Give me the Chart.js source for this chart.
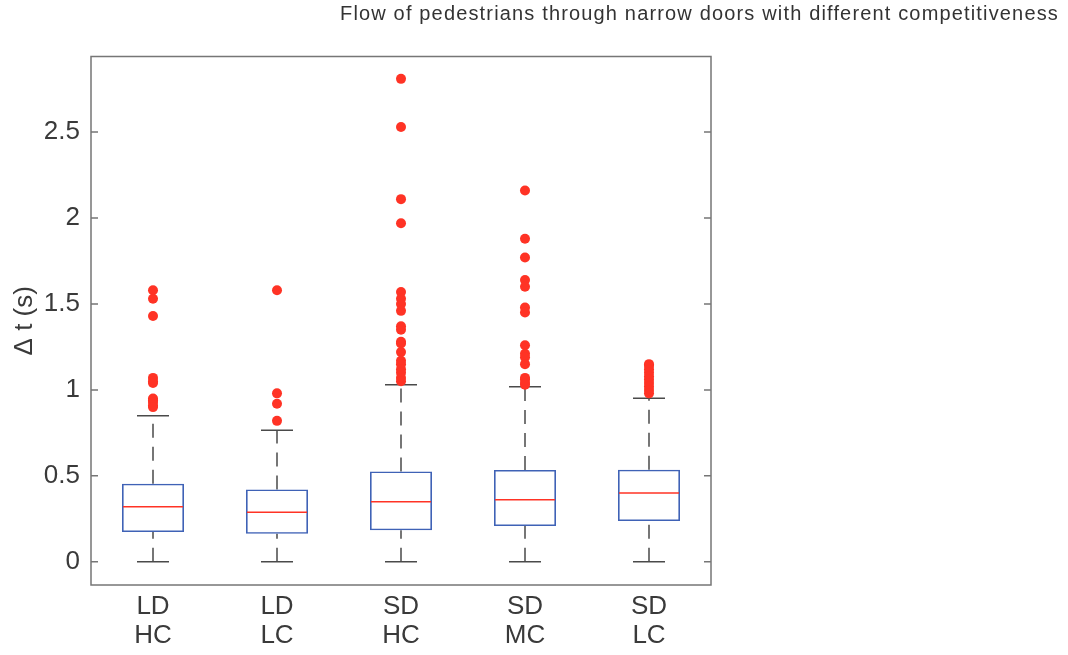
<!DOCTYPE html>
<html>
<head>
<meta charset="utf-8">
<script src="https://cdn.jsdelivr.net/npm/chart.js@4.4.1/dist/chart.umd.min.js"></script>
<style>
  html, body { margin: 0; padding: 0; background: #fff; }
  #wrap { width: 1068px; height: 655px; position: relative; }
</style>
</head>
<body>
<div id="wrap"><canvas id="chart"></canvas></div>
<script>
// categories (two-line tick labels)
const categories = [['LD', 'HC'], ['LD', 'LC'], ['SD', 'HC'], ['SD', 'MC'], ['SD', 'LC']];

// box statistics (seconds)
const q1 = [0.173, 0.163, 0.183, 0.208, 0.237];
const median = [0.320, 0.289, 0.350, 0.361, 0.400];
const q3 = [0.454, 0.421, 0.526, 0.534, 0.536];
const whiskerLow = [0, 0, 0, 0, 0];
const whiskerHigh = [0.850, 0.765, 1.030, 1.018, 0.952];

// outliers per group
const outliersLDHC = [1.58, 1.53, 1.43, 1.07, 1.05, 1.04, 0.95, 0.94, 0.93, 0.91, 0.90];
const outliersLDLC = [1.58, 0.98, 0.92, 0.82];
const outliersSDHC = [2.81, 2.53, 2.11, 1.97, 1.57, 1.53, 1.50, 1.46, 1.37, 1.35, 1.28, 1.27,
                      1.22, 1.17, 1.15, 1.12, 1.10, 1.07, 1.05];
const outliersSDMC = [2.16, 1.88, 1.77, 1.64, 1.60, 1.48, 1.45, 1.26, 1.21, 1.19, 1.15, 1.07,
                      1.06, 1.04, 1.03];
const outliersSDLC = [1.15, 1.14, 1.12, 1.10, 1.08, 1.06, 1.04, 1.02, 1.00, 0.98];
const outliers = [outliersLDHC, outliersLDLC, outliersSDHC, outliersSDMC, outliersSDLC];

const yTicks = [0, 0.5, 1, 1.5, 2, 2.5];
const yMin = -0.135;
const yMax = 2.94;

const titleText = 'Flow of pedestrians through narrow doors with different competitiveness';

const textColor = '#3a3a3a';
const axisColor = '#767676';
const boxColor = '#3f62b6';
const redColor = '#ff3325';
const whiskerColor = '#4a4a4a';
const fontFamily = '"Liberation Sans", Arial, sans-serif';

const boxData = categories.map((c, i) => ({ x: i + 1, y: [q1[i], q3[i]] }));
const outlierData = [];
outliers.forEach((list, i) => list.forEach(v => outlierData.push({ x: i + 1, y: v })));

// whiskers, caps, medians, frame, inward ticks and the title
const boxplotPlugin = {
    id: 'boxplotExtras',
    beforeDatasetsDraw(chart) {
        const { ctx, scales: { x, y } } = chart;
        const halfCap = 16;
        ctx.save();
        ctx.strokeStyle = whiskerColor;
        ctx.lineWidth = 1.5;
        categories.forEach((c, i) => {
            const px = x.getPixelForValue(i + 1);
            // dashed lines drawn upward, like MATLAB
            ctx.setLineDash([14, 9]);
            ctx.beginPath();
            ctx.moveTo(px, y.getPixelForValue(whiskerLow[i]));
            ctx.lineTo(px, y.getPixelForValue(q1[i]));
            ctx.moveTo(px, y.getPixelForValue(q3[i]));
            ctx.lineTo(px, y.getPixelForValue(whiskerHigh[i]));
            ctx.stroke();
            ctx.setLineDash([]);
            ctx.beginPath();
            [whiskerLow[i], whiskerHigh[i]].forEach(v => {
                const py = y.getPixelForValue(v);
                ctx.moveTo(px - halfCap, py);
                ctx.lineTo(px + halfCap, py);
            });
            ctx.stroke();
        });
        ctx.restore();
    },
    afterDatasetDraw(chart, args) {
        if (args.index !== 0) return;
        const { ctx, scales: { y } } = chart;
        const meta = chart.getDatasetMeta(0);
        ctx.save();
        ctx.strokeStyle = redColor;
        ctx.lineWidth = 1.5;
        meta.data.forEach((bar, i) => {
            const py = y.getPixelForValue(median[i]);
            ctx.beginPath();
            ctx.moveTo(bar.x - bar.width / 2 + 1, py);
            ctx.lineTo(bar.x + bar.width / 2 - 1, py);
            ctx.stroke();
        });
        ctx.restore();
    },
    afterDraw(chart) {
        const { ctx, chartArea: a, scales: { y } } = chart;
        ctx.save();
        ctx.strokeStyle = axisColor;
        ctx.lineWidth = 1.5;
        ctx.strokeRect(a.left, a.top, a.right - a.left, a.bottom - a.top);
        ctx.beginPath();
        y.ticks.forEach(t => {
            const py = y.getPixelForValue(t.value);
            ctx.moveTo(a.left, py);
            ctx.lineTo(a.left + 7, py);
            ctx.moveTo(a.right, py);
            ctx.lineTo(a.right - 7, py);
        });
        ctx.stroke();

        // title, right aligned in the top strip
        ctx.fillStyle = '#333333';
        ctx.font = '20px ' + fontFamily;
        const target = 718;
        const w = ctx.measureText(titleText).width;
        ctx.textAlign = 'right';
        ctx.textBaseline = 'alphabetic';
        if (w > target) {
            ctx.translate(1059, 20);
            ctx.scale(target / w, 1);
            ctx.fillText(titleText, 0, 0);
        } else {
            if ('letterSpacing' in ctx) {
                ctx.letterSpacing = ((target - w) / (titleText.length - 1)).toFixed(2) + 'px';
            }
            ctx.fillText(titleText, 1059, 20);
        }
        ctx.restore();
    }
};

new Chart(document.getElementById('chart'), {
    data: {
        datasets: [{
            type: 'bar',
            data: boxData,
            backgroundColor: 'rgba(255,255,255,0)',
            borderColor: boxColor,
            borderWidth: 1.6,
            borderSkipped: false,
            barPercentage: 0.5,
            categoryPercentage: 1
        }, {
            type: 'scatter',
            data: outlierData,
            backgroundColor: redColor,
            borderColor: redColor,
            borderWidth: 0,
            pointRadius: 5,
            pointHoverRadius: 5
        }]
    },
    options: {
        responsive: true,
        maintainAspectRatio: false,
        animation: false,
        layout: { padding: { top: 56.5, right: 357, bottom: 0, left: 0 } },
        plugins: {
            legend: { display: false },
            tooltip: { enabled: false }
        },
        scales: {
            x: {
                type: 'linear',
                offset: false,
                min: 0.5,
                max: 5.5,
                afterBuildTicks: (axis) => {
                    axis.ticks = categories.map((c, i) => ({ value: i + 1 }));
                },
                afterFit: (axis) => { axis.height = 70; },
                grid: { display: false, drawTicks: false, offset: false },
                border: { display: false },
                ticks: {
                    autoSkip: false,
                    maxRotation: 0,
                    padding: 7,
                    color: textColor,
                    font: { family: fontFamily, size: 26, lineHeight: 1.12 },
                    callback: (v) => categories[Math.round(v) - 1] || ''
                }
            },
            y: {
                type: 'linear',
                min: yMin,
                max: yMax,
                afterBuildTicks: (axis) => {
                    axis.ticks = yTicks.map(v => ({ value: v }));
                },
                afterFit: (axis) => { axis.width = 91; },
                grid: { display: false, drawTicks: false },
                border: { display: false },
                ticks: {
                    padding: 11,
                    color: textColor,
                    font: { family: fontFamily, size: 26 },
                    callback: (v) => String(v)
                },
                title: {
                    display: true,
                    text: '\u0394 t (s)',
                    color: textColor,
                    padding: { top: 9, bottom: 0 },
                    font: { family: fontFamily, size: 26 }
                }
            }
        }
    },
    plugins: [boxplotPlugin]
});
</script>
</body>
</html>
